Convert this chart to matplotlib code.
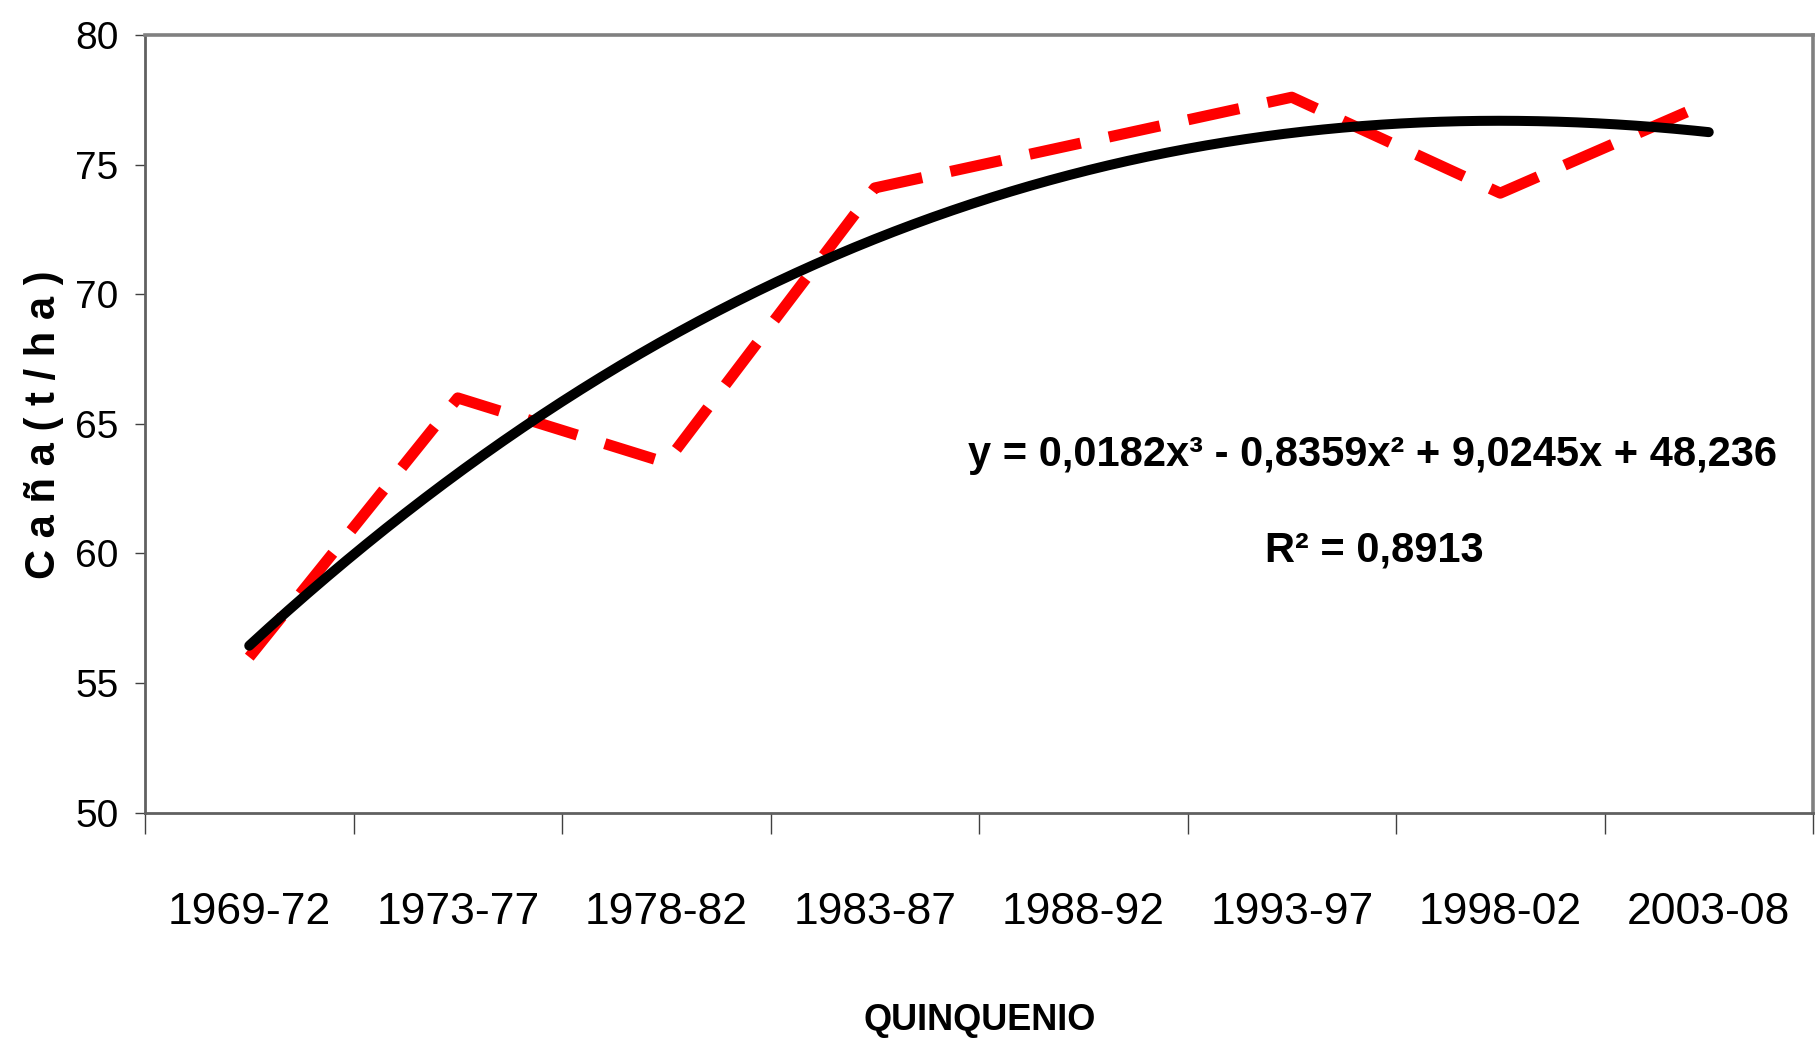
import numpy as np
import matplotlib
matplotlib.use("Agg")
import matplotlib.pyplot as plt
from matplotlib.ticker import FixedLocator, NullFormatter, FixedFormatter

# ---- data ----
categories = ["1969-72", "1973-77", "1978-82", "1983-87", "1988-92", "1993-97", "1998-02", "2003-08"]
cana_values = [56.0, 66.0, 63.5, 74.1, 75.85, 77.6, 73.9, 77.4]
trend_coefs = [0.0182, -0.8359, 9.0245, 48.236]   # polynomial trend (x^3, x^2, x, 1)
r_squared = 0.8913
y_ticks = [50, 55, 60, 65, 70, 75, 80]

FAM = ["Liberation Sans", "DejaVu Sans"]
plt.rcParams["font.family"] = FAM

W, H = 1816, 1047
fig = plt.figure(figsize=(W / 100, H / 100), dpi=100)
ax = fig.add_axes([145 / W, 1 - 812.7 / H, (1813 - 145) / W, (812.7 - 35) / H])

x = np.arange(1, len(categories) + 1)

# data series (red dashed)
ax.plot(x, cana_values, color="#FF0000", lw=8.0, dashes=(4.7, 2.6),
        dash_capstyle="butt", solid_joinstyle="miter", zorder=2)

# polynomial trend line (black)
xt = np.linspace(x[0], x[-1], 300)
yt = np.polyval(trend_coefs, xt)
ax.plot(xt, yt, color="black", lw=7.2, solid_capstyle="round", zorder=3)

ax.set_xlim(0.5, len(categories) + 0.5)
ax.set_ylim(y_ticks[0], y_ticks[-1])

# x ticks at category boundaries, labels at centers
ax.xaxis.set_major_locator(FixedLocator(np.arange(0.5, len(categories) + 1, 1.0)))
ax.xaxis.set_major_formatter(NullFormatter())
ax.xaxis.set_minor_locator(FixedLocator(x))
ax.xaxis.set_minor_formatter(FixedFormatter(categories))
ax.tick_params(axis="x", which="major", direction="out", length=15, width=1.0, color="#404040")
ax.tick_params(axis="x", which="minor", length=0, pad=57, labelsize=32)

ax.set_yticks(y_ticks)
ax.set_yticklabels([str(v) for v in y_ticks])
ax.tick_params(axis="y", direction="out", length=7, width=1.0, color="#404040",
               pad=12, labelsize=28)

for side in ["top", "right"]:
    ax.spines[side].set_color("#808080")
    ax.spines[side].set_linewidth(2.6)
for side in ["left", "bottom"]:
    ax.spines[side].set_color("#606060")
    ax.spines[side].set_linewidth(2.0)

# equation text
def fmt(v):
    return str(v).replace(".", ",")

c3, c2, c1, c0 = trend_coefs
eq = f"y = {fmt(c3)}x\u00b3 - {fmt(abs(c2))}x\u00b2 + {fmt(c1)}x + {fmt(c0)}"
r2txt = f"R\u00b2 = {fmt(r_squared)}"
fig.text(1372 / W, 1 - 455 / H, eq, ha="center", va="center", fontsize=30,
         fontweight="bold")
fig.text(1374 / W, 1 - 550 / H, r2txt, ha="center", va="center", fontsize=30,
         fontweight="bold")

# axis titles
fig.text(44 / W, 1 - 425 / H, "C a ñ a ( t / h a )", rotation=90, ha="center",
         va="center", fontsize=30, fontweight="bold")
fig.text(980 / W, 1 - 1021 / H, "QUINQUENIO", ha="center", va="center",
         fontsize=26, fontweight="bold")

fig.savefig("out.png", dpi=100)
